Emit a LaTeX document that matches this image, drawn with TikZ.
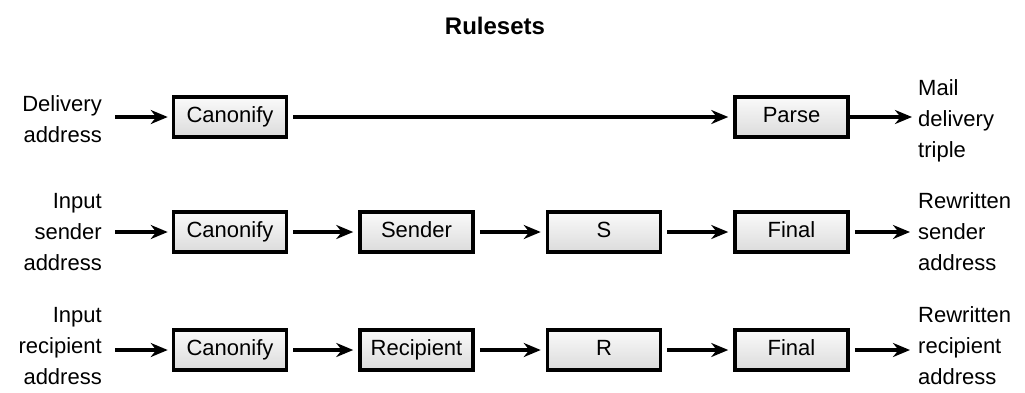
\documentclass[tikz,border=0pt]{standalone}
\usepackage{fontspec}
\setmainfont{Liberation Sans}
\usetikzlibrary{arrows.meta}
\begin{document}
\begin{tikzpicture}[x=1pt,y=-1pt,
  rbox/.style={draw=black,line width=3.5pt,top color=gray!4,bottom color=gray!28,
    minimum width=113pt,minimum height=40pt,inner sep=0pt,text height=16pt,text depth=4.5pt,
    font=\fontsize{22}{26}\selectfont},
  lbl/.style={font=\fontsize{22}{31}\selectfont,inner sep=0pt,align=right,anchor=east},
  rlbl/.style={font=\fontsize{22}{31}\selectfont,inner sep=0pt,align=left,anchor=west},
  conn/.style={line width=3.2pt,-{Stealth[length=17pt,width=14pt]}}
]
\useasboundingbox (0,0) rectangle (1025,392);
\node[font=\bfseries\fontsize{24}{28}\selectfont] (title) at (495,26) {Rulesets};
% row 1
\node[lbl] (l1) at (102,119) {Delivery\\address};
\node[rbox] (c1) at (230,117) {Canonify};
\node[rbox] (p1) at (791.5,117) {Parse};
\node[rlbl] (r1) at (918,121) {Mail\\delivery\\triple};
% row 2
\node[lbl] (l2) at (102,232) {Input\\sender\\address};
\node[rbox] (c2) at (230,232) {Canonify};
\node[rbox] (s2) at (416.5,232) {Sender};
\node[rbox] (m2) at (604,232) {S};
\node[rbox] (f2) at (791.5,232) {Final};
\node[rlbl] (r2) at (918,232) {Rewritten\\sender\\address};
% row 3
\node[lbl] (l3) at (102,346) {Input\\recipient\\address};
\node[rbox] (c3) at (230,350) {Canonify};
\node[rbox] (s3) at (416.5,350) {Recipient};
\node[rbox] (m3) at (604,350) {R};
\node[rbox] (f3) at (791.5,350) {Final};
\node[rlbl] (r3) at (918,346) {Rewritten\\recipient\\address};
% connectors
\draw[conn,shorten <=13pt,shorten >=4pt] (l1.east |- c1) -- (c1);
\draw[conn,shorten <=5pt,shorten >=5pt] (c1) -- (p1);
\draw[conn,line width=4.5pt,shorten <=0pt,shorten >=6pt] (p1) -- (r1.west |- p1);
\draw[conn,shorten <=13pt,shorten >=4pt] (l2.east |- c2) -- (c2);
\draw[conn,shorten <=5pt,shorten >=5pt] (c2) -- (s2);
\draw[conn,shorten <=5pt,shorten >=5pt] (s2) -- (m2);
\draw[conn,shorten <=5pt,shorten >=5pt] (m2) -- (f2);
\draw[conn,shorten <=5pt,shorten >=8pt] (f2) -- (r2.west |- f2);
\draw[conn,shorten <=13pt,shorten >=4pt] (l3.east |- c3) -- (c3);
\draw[conn,shorten <=5pt,shorten >=5pt] (c3) -- (s3);
\draw[conn,shorten <=5pt,shorten >=5pt] (s3) -- (m3);
\draw[conn,shorten <=5pt,shorten >=5pt] (m3) -- (f3);
\draw[conn,shorten <=5pt,shorten >=8pt] (f3) -- (r3.west |- f3);
\end{tikzpicture}
\end{document}
